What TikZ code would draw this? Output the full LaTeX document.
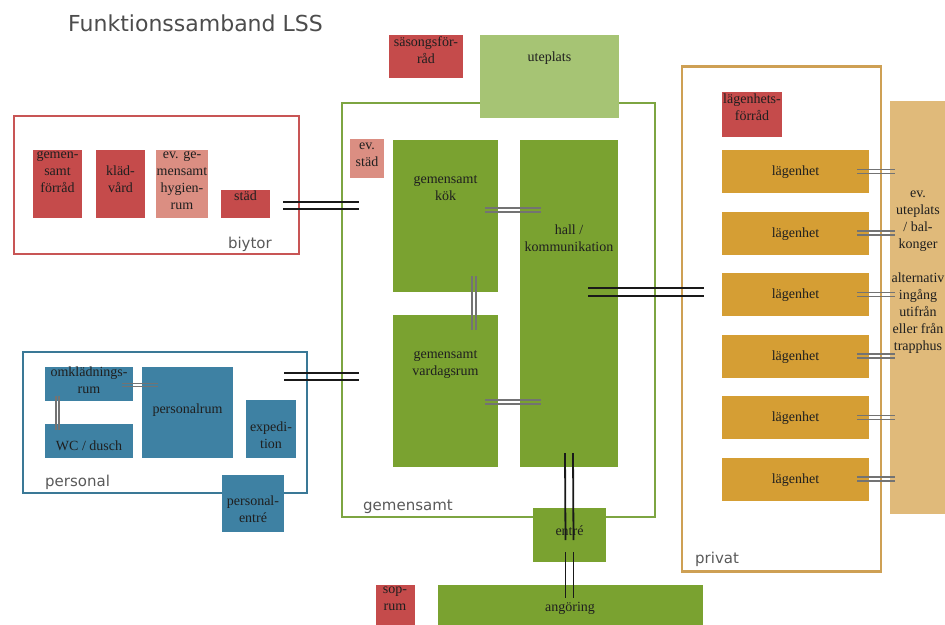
\documentclass[tikz,border=0pt]{standalone}
\usepackage{fontspec}
\setmainfont{Liberation Serif}
\newfontfamily\zonefont{DejaVu Sans}
\usetikzlibrary{calc}

\definecolor{roomred}{RGB}{197,75,75}
\definecolor{roompink}{RGB}{219,142,130}
\definecolor{roomblue}{RGB}{62,129,163}
\definecolor{roomgreen}{RGB}{122,162,48}
\definecolor{roomlightgreen}{RGB}{166,196,116}
\definecolor{roomgold}{RGB}{213,158,52}
\definecolor{roomtan}{RGB}{224,186,122}
\definecolor{zonered}{RGB}{200,85,85}
\definecolor{zoneblue}{RGB}{58,120,150}
\definecolor{zonegreen}{RGB}{125,165,65}
\definecolor{zonegold}{RGB}{206,160,84}

\tikzset{
    zone/.style 2 args={rectangle, draw, line width=2.5pt, inner sep=0pt, minimum width=#1pt, minimum height=#2pt},
    zonetext/.style={font=\zonefont\fontsize{15}{18}\selectfont, text=black!65, inner sep=0pt},
    titletext/.style={font=\zonefont\fontsize{22}{26}\selectfont, text=black!70, inner sep=0pt},
    room/.style 2 args={rectangle, inner sep=0pt, minimum width=#1pt, minimum height=#2pt},
    roomtext/.style={font=\fontsize{14}{17}\selectfont, align=center, inner sep=0pt, text=black!88},
    roomtag/.style 2 args={label={[roomtext, anchor=north, yshift=#1pt]north:\strut #2}},
    hlink/.style={postaction={draw, transform canvas={yshift=#1}}, postaction={draw, transform canvas={yshift=-#1}}},
    vlink/.style={postaction={draw, transform canvas={xshift=#1}}, postaction={draw, transform canvas={xshift=-#1}}},
    heavy/.style={color=black!90, line width=1.8pt},
    light/.style={color=black!55, line width=1.1pt}
}

\begin{document}
\begin{tikzpicture}[x=1pt, y=-1pt]
    \useasboundingbox (0,0) rectangle (945,624);
    \clip (0,0) rectangle (945,624);

    \node[titletext, anchor=base west] (title) at (68,31) {Funktionssamband LSS};

    % zones
    \node[zone={285}{138}, draw=zonered] (biytor) at (156.5,185) {};
    \node[zone={284}{141}, draw=zoneblue] (personal) at (165,422.5) {};
    \node[zone={313}{414}, draw=zonegreen] (gemensamt) at (498.5,310) {};
    \node[zone={199}{505}, draw=zonegold] (privat) at (781.5,319) {};
    \node[zonetext, anchor=base east] (biytortext) at (272,248) {biytor};
    \node[zonetext, anchor=base west] (personaltext) at (45,486) {personal};
    \node[zonetext, anchor=base west] (gemensamttext) at (363,510) {gemensamt};
    \node[zonetext, anchor=base west] (privattext) at (695,563) {privat};

    % biytor
    \node[room={49}{68}, fill=roomred, roomtag={3}{gemen-\\samt\\förråd}] (forrad) at (57.5,184) {};
    \node[room={49}{68}, fill=roomred, roomtag={-14}{kläd-\\vård}] (kladvard) at (120.5,184) {};
    \node[room={52}{68}, fill=roompink, roomtag={3}{ev. ge-\\mensamt\\hygien-\\rum}] (hygien) at (182,184) {};
    \node[room={49}{28}, fill=roomred, roomtag={1}{städ}] (stad) at (245.5,204) {};

    % personal
    \node[room={88}{34}, fill=roomblue, roomtag={2}{omklädnings-\\rum}] (omkl) at (89,384) {};
    \node[room={88}{34}, fill=roomblue, roomtag={-15}{WC / dusch}] (wc) at (89,441) {};
    \node[room={91}{91}, fill=roomblue, roomtag={-35}{personalrum}] (personalrum) at (187.5,412.5) {};
    \node[room={50}{58}, fill=roomblue, roomtag={-20}{expedi-\\tion}] (expedition) at (271,429) {};
    \node[room={62}{57}, fill=roomblue, roomtag={-19}{personal-\\entré}] (personalentre) at (253,503.5) {};

    % gemensamt
    \node[room={74}{43}, fill=roomred, roomtag={0}{säsongsför-\\råd}] (sasong) at (426,56.5) {};
    \node[room={139}{83}, fill=roomlightgreen, roomtag={-15}{uteplats}] (uteplats) at (549.5,76.5) {};
    \node[room={34}{39}, fill=roompink, roomtag={1}{ev.\\städ}] (evstad) at (367,158.5) {};
    \node[room={105}{152}, fill=roomgreen, roomtag={-32}{gemensamt\\kök}] (kok) at (445.5,216) {};
    \node[room={105}{152}, fill=roomgreen, roomtag={-32}{gemensamt\\vardagsrum}] (vardag) at (445.5,391) {};
    \node[room={98}{327}, fill=roomgreen, roomtag={-83}{hall /\\kommunikation}] (hall) at (569,303.5) {};
    \node[room={73}{54}, fill=roomgreen, roomtag={-16}{entré}] (entre) at (569.5,535) {};
    \node[room={39}{45}, fill=roomred, roomtag={3}{sop-\\rum}] (soprum) at (395,607.5) {};
    \node[room={265}{45}, fill=roomgreen, roomtag={-15}{angöring}] (angoring) at (570,607.5) {};

    % privat
    \node[room={60}{45}, fill=roomred, roomtag={0}{lägenhets-\\förråd}] (lgforrad) at (752,114.5) {};
    \node[room={56}{413}, fill=roomtan, roomtag={-85}{ev.\\uteplats\\/ bal-\\konger\\[17pt]alternativ\\ingång\\utifrån\\eller från\\trapphus}] (balkong) at (918,307.5) {};
    \foreach \i in {0,...,5} {
        \node[room={147}{43}, fill=roomgold, roomtag={-14}{lägenhet}] (lag\i) at (795.5,{171.5+61.5*\i}) {};
        \path[light, hlink=2pt] ($(lag\i.east)+(-12,0)$) -- ($(balkong.west |- lag\i.east)+(5,0)$);
    }

    % links
    \path[heavy, hlink=3.5pt] ($(stad.east)+(13,1.5)$) -- ($(gemensamt.west |- stad.east)+(18,1.5)$);
    \path[heavy, hlink=3.5pt] ($(personal.north east)+(-24,26)$) -- ($(gemensamt.west |- personal.north east)+(18,26)$);
    \path[light, hlink=1.5pt] ($(omkl.east)+(-11,1)$) -- ($(personalrum.west |- omkl.east)+(16,1)$);
    \path[light, vlink=1.5pt] ($(omkl.south)+(-31.5,-5)$) -- ($(wc.north)+(-31.5,6)$);
    \path[light, hlink=2pt] ($(kok.east)+(-13,-6)$) -- ($(hall.west |- kok.east)+(21,-6)$);
    \path[light, hlink=2pt] ($(vardag.east)+(-13,11)$) -- ($(hall.west |- vardag.east)+(21,11)$);
    \path[light, vlink=2pt] ($(kok.south)+(28.5,-16)$) -- ($(vardag.north)+(28.5,15)$);
    \path[heavy, hlink=4pt] ($(hall.center)+(19,-11.5)$) -- ($(privat.west |- hall.center)+(23,-11.5)$);
    \path[heavy, vlink=4pt] ($(hall.south)+(0,-14)$) -- ($(entre.center)+(0,5)$);
    \path[heavy, vlink=4pt] ($(entre.south)+(0,-10)$) -- ($(angoring.north -| entre.south)+(0,13)$);
\end{tikzpicture}
\end{document}
